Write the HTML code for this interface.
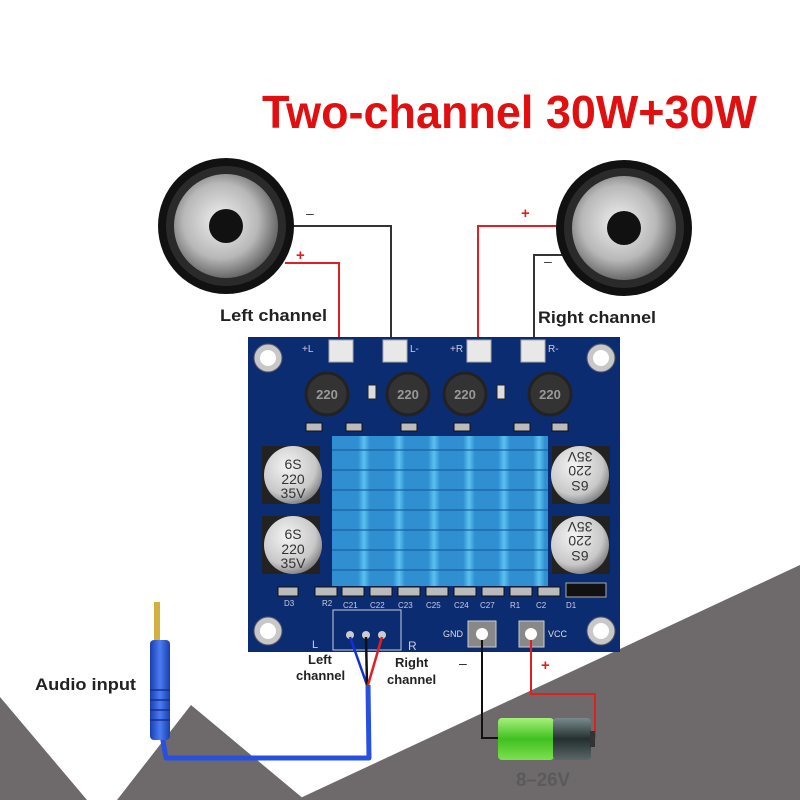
<!DOCTYPE html>
<html><head><meta charset="utf-8"><style>
html,body{margin:0;padding:0;background:#fff;}
svg{display:block;font-family:"Liberation Sans",sans-serif;}
</style></head><body>
<svg width="800" height="800" viewBox="0 0 800 800" xmlns="http://www.w3.org/2000/svg">
<defs>
<radialGradient id="cone" cx="0.45" cy="0.45" r="0.6">
<stop offset="0" stop-color="#f0f0f0"/><stop offset="0.6" stop-color="#b8b8b8"/><stop offset="1" stop-color="#555"/>
</radialGradient>
<radialGradient id="cap" cx="0.4" cy="0.35" r="0.7">
<stop offset="0" stop-color="#f4f4f4"/><stop offset="0.7" stop-color="#c8c8c8"/><stop offset="1" stop-color="#777"/>
</radialGradient>
<linearGradient id="fin" x1="0" x2="1"><stop offset="0" stop-color="#2e8fd0"/><stop offset="0.5" stop-color="#5cc0f0"/><stop offset="1" stop-color="#2e8fd0"/></linearGradient>
<linearGradient id="batG" x1="0" y1="0" x2="0" y2="1"><stop offset="0" stop-color="#a6f07a"/><stop offset="0.5" stop-color="#40c020"/><stop offset="1" stop-color="#7ee050"/></linearGradient>
<linearGradient id="batD" x1="0" y1="0" x2="0" y2="1"><stop offset="0" stop-color="#7a8a8c"/><stop offset="0.5" stop-color="#23302f"/><stop offset="1" stop-color="#5a6668"/></linearGradient>
<linearGradient id="jack" x1="0" x2="1"><stop offset="0" stop-color="#1a3fb0"/><stop offset="0.5" stop-color="#4a7cf0"/><stop offset="1" stop-color="#1a3fb0"/></linearGradient>
</defs>
<!-- gray background -->
<polygon points="296,800 800,565 800,800" fill="#6e6a6b"/>
<polygon points="0,697 87,800 0,800" fill="#6e6a6b"/>
<polygon points="191,705 117,800 305,800" fill="#6e6a6b"/>

<!-- title -->
<text x="262" y="128" font-size="46" font-weight="bold" fill="#e01010" textLength="495" lengthAdjust="spacingAndGlyphs">Two-channel 30W+30W</text>

<!-- speaker wires -->
<polyline points="290,226 391,226 391,352" fill="none" stroke="#333" stroke-width="2"/>
<polyline points="285,263 339,263 339,352" fill="none" stroke="#e02020" stroke-width="2"/>
<polyline points="562,226 478,226 478,352" fill="none" stroke="#e02020" stroke-width="2"/>
<polyline points="562,255 534,255 534,352" fill="none" stroke="#333" stroke-width="2"/>
<text x="306" y="218" font-size="14" fill="#333">–</text>
<text x="296" y="260" font-size="15" font-weight="bold" fill="#e02020">+</text>
<text x="521" y="218" font-size="15" font-weight="bold" fill="#e02020">+</text>
<text x="544" y="266" font-size="14" fill="#333">–</text>

<!-- speakers -->
<g>
<circle cx="226" cy="226" r="68" fill="#111"/>
<circle cx="226" cy="226" r="60" fill="#2a2a2a"/>
<circle cx="226" cy="226" r="52" fill="url(#cone)"/>
<circle cx="226" cy="226" r="17" fill="#111"/>
</g>
<g>
<circle cx="624" cy="228" r="68" fill="#111"/>
<circle cx="624" cy="228" r="60" fill="#2a2a2a"/>
<circle cx="624" cy="228" r="52" fill="url(#cone)"/>
<circle cx="624" cy="228" r="17" fill="#111"/>
</g>
<text x="220" y="321" font-size="17" font-weight="bold" fill="#222" textLength="107" lengthAdjust="spacingAndGlyphs">Left channel</text>
<text x="538" y="323" font-size="17" font-weight="bold" fill="#222" textLength="118" lengthAdjust="spacingAndGlyphs">Right channel</text>

<!-- board -->
<rect x="248" y="337" width="372" height="315" fill="#0c2c72"/>
<g fill="#c8c8c8" stroke="#556" stroke-width="1">
<circle cx="268" cy="358" r="14"/><circle cx="601" cy="358" r="14"/>
<circle cx="268" cy="631" r="14"/><circle cx="601" cy="631" r="14"/>
</g>
<g fill="#fff"><circle cx="268" cy="358" r="8"/><circle cx="601" cy="358" r="8"/><circle cx="268" cy="631" r="8"/><circle cx="601" cy="631" r="8"/></g>
<!-- terminals -->
<g fill="#e8e8e8" stroke="#aaa">
<rect x="329" y="340" width="24" height="22"/><rect x="383" y="340" width="24" height="22"/>
<rect x="467" y="340" width="24" height="22"/><rect x="521" y="340" width="24" height="22"/>
</g>
<g font-size="10" fill="#ccd" >
<text x="302" y="352">+L</text><text x="410" y="352">L-</text><text x="450" y="352">+R</text><text x="548" y="352">R-</text>
</g>
<!-- inductors -->
<g fill="#333" stroke="#222" stroke-width="3">
<circle cx="327" cy="394" r="21"/><circle cx="408" cy="394" r="21"/><circle cx="465" cy="394" r="21"/><circle cx="550" cy="394" r="21"/>
</g>
<g font-size="13" fill="#999" font-weight="bold" text-anchor="middle">
<text x="327" y="399">220</text><text x="408" y="399">220</text><text x="465" y="399">220</text><text x="550" y="399">220</text>
</g>
<g fill="#ddd" stroke="#222"><rect x="368" y="385" width="8" height="14"/><rect x="497" y="385" width="8" height="14"/></g>
<!-- small smd row top -->
<g fill="#bbb" stroke="#111">
<rect x="306" y="423" width="16" height="8"/><rect x="346" y="423" width="16" height="8"/><rect x="401" y="423" width="16" height="8"/><rect x="454" y="423" width="16" height="8"/><rect x="514" y="423" width="16" height="8"/><rect x="552" y="423" width="16" height="8"/>
</g>
<!-- heatsink -->
<rect x="332" y="436" width="216" height="150" fill="#2f8fd0"/>
<g fill="url(#fin)">
<rect x="358" y="436" width="12" height="150"/><rect x="393" y="436" width="12" height="150"/><rect x="428" y="436" width="12" height="150"/><rect x="463" y="436" width="12" height="150"/><rect x="498" y="436" width="12" height="150"/><rect x="533" y="436" width="12" height="150"/>
</g>
<g stroke="#1a5fa0" stroke-width="2" opacity="0.6">
<line x1="332" y1="450" x2="548" y2="450"/><line x1="332" y1="470" x2="548" y2="470"/><line x1="332" y1="490" x2="548" y2="490"/><line x1="332" y1="510" x2="548" y2="510"/><line x1="332" y1="530" x2="548" y2="530"/><line x1="332" y1="550" x2="548" y2="550"/><line x1="332" y1="570" x2="548" y2="570"/>
</g>
<!-- caps -->
<g fill="#222"><rect x="262" y="446" width="58" height="58"/><rect x="262" y="516" width="58" height="58"/><rect x="552" y="446" width="58" height="58"/><rect x="552" y="516" width="58" height="58"/></g>
<g fill="url(#cap)"><circle cx="293" cy="475" r="29"/><circle cx="293" cy="545" r="29"/><circle cx="580" cy="475" r="29"/><circle cx="580" cy="545" r="29"/></g>
<g font-size="14" fill="#333" text-anchor="middle">
<text x="293" y="469">6S</text><text x="293" y="484">220</text><text x="293" y="498">35V</text>
<text x="293" y="539">6S</text><text x="293" y="554">220</text><text x="293" y="568">35V</text>
</g>
<g font-size="14" fill="#333" text-anchor="middle" transform="rotate(180 580 510)">
<text x="580" y="539">6S</text><text x="580" y="554">220</text><text x="580" y="568">35V</text>
<text x="580" y="469">6S</text><text x="580" y="484">220</text><text x="580" y="498">35V</text>
</g>
<!-- bottom smd row -->
<g fill="#bbb" stroke="#111">
<rect x="278" y="587" width="20" height="9"/>
<rect x="315" y="587" width="22" height="9"/><rect x="342" y="587" width="22" height="9"/><rect x="370" y="587" width="22" height="9"/><rect x="398" y="587" width="22" height="9"/><rect x="426" y="587" width="22" height="9"/><rect x="454" y="587" width="22" height="9"/><rect x="482" y="587" width="22" height="9"/><rect x="510" y="587" width="22" height="9"/><rect x="538" y="587" width="22" height="9"/>
</g>
<rect x="566" y="583" width="40" height="14" fill="#111" stroke="#aaa"/>
<g font-size="8" fill="#ccd">
<text x="284" y="606">D3</text><text x="322" y="606">R2</text><text x="343" y="608">C21</text><text x="370" y="608">C22</text><text x="398" y="608">C23</text><text x="426" y="608">C25</text><text x="454" y="608">C24</text><text x="480" y="608">C27</text><text x="510" y="608">R1</text><text x="536" y="608">C2</text><text x="566" y="608">D1</text>
</g>
<!-- input header -->
<rect x="333" y="610" width="68" height="40" fill="none" stroke="#ccd" stroke-width="1"/>
<g fill="#ccc"><circle cx="350" cy="635" r="4"/><circle cx="366" cy="635" r="4"/><circle cx="382" cy="635" r="4"/></g>
<text x="312" y="648" font-size="11" fill="#ccd">L</text><text x="408" y="650" font-size="12" fill="#ccd">R</text>
<!-- power terminals -->
<rect x="468" y="621" width="28" height="26" fill="#888" stroke="#ccc"/><circle cx="482" cy="634" r="6" fill="#fff"/>
<rect x="519" y="621" width="25" height="26" fill="#888" stroke="#ccc"/><circle cx="531" cy="634" r="6" fill="#fff"/>
<text x="443" y="637" font-size="9" fill="#ddd">GND</text><text x="548" y="637" font-size="9" fill="#ddd">VCC</text>

<!-- audio wires -->
<line x1="350" y1="637" x2="367" y2="685" stroke="#1030e0" stroke-width="2.5"/>
<line x1="366" y1="637" x2="367" y2="685" stroke="#111" stroke-width="2.5"/>
<line x1="382" y1="637" x2="368" y2="685" stroke="#e02020" stroke-width="2.5"/>
<polyline points="368,685 369,758 166,758 162,735" fill="none" stroke="#2850e0" stroke-width="5" stroke-linejoin="round"/>
<text x="308" y="664" font-size="13" font-weight="bold" fill="#222">Left</text>
<text x="296" y="680" font-size="13" font-weight="bold" fill="#222">channel</text>
<text x="395" y="667" font-size="13" font-weight="bold" fill="#222">Right</text>
<text x="387" y="684" font-size="13" font-weight="bold" fill="#222">channel</text>
<!-- jack -->
<rect x="154" y="602" width="6" height="42" fill="#d4b040"/>
<rect x="150" y="640" width="20" height="100" rx="4" fill="url(#jack)"/>
<g stroke="#143090" stroke-width="1.5"><line x1="150" y1="690" x2="170" y2="690"/><line x1="150" y1="700" x2="170" y2="700"/><line x1="150" y1="710" x2="170" y2="710"/><line x1="150" y1="720" x2="170" y2="720"/></g>
<text x="35" y="690" font-size="17" font-weight="bold" fill="#222" textLength="101" lengthAdjust="spacingAndGlyphs">Audio input</text>

<!-- power wires -->
<polyline points="482,640 482,738 498,738" fill="none" stroke="#111" stroke-width="2"/>
<polyline points="531,640 531,694 595,694 595,738" fill="none" stroke="#e02020" stroke-width="2"/>
<text x="459" y="668" font-size="14" fill="#222">–</text>
<text x="541" y="670" font-size="15" font-weight="bold" fill="#e02020">+</text>
<!-- battery -->
<rect x="498" y="718" width="56" height="42" rx="4" fill="url(#batG)"/>
<rect x="553" y="718" width="38" height="42" rx="4" fill="url(#batD)"/>
<rect x="590" y="731" width="5" height="16" fill="#333"/>
<text x="516" y="786" font-size="19" font-weight="bold" fill="#5a5a5a" textLength="54" lengthAdjust="spacingAndGlyphs">8–26V</text>
</svg>
</body></html>
